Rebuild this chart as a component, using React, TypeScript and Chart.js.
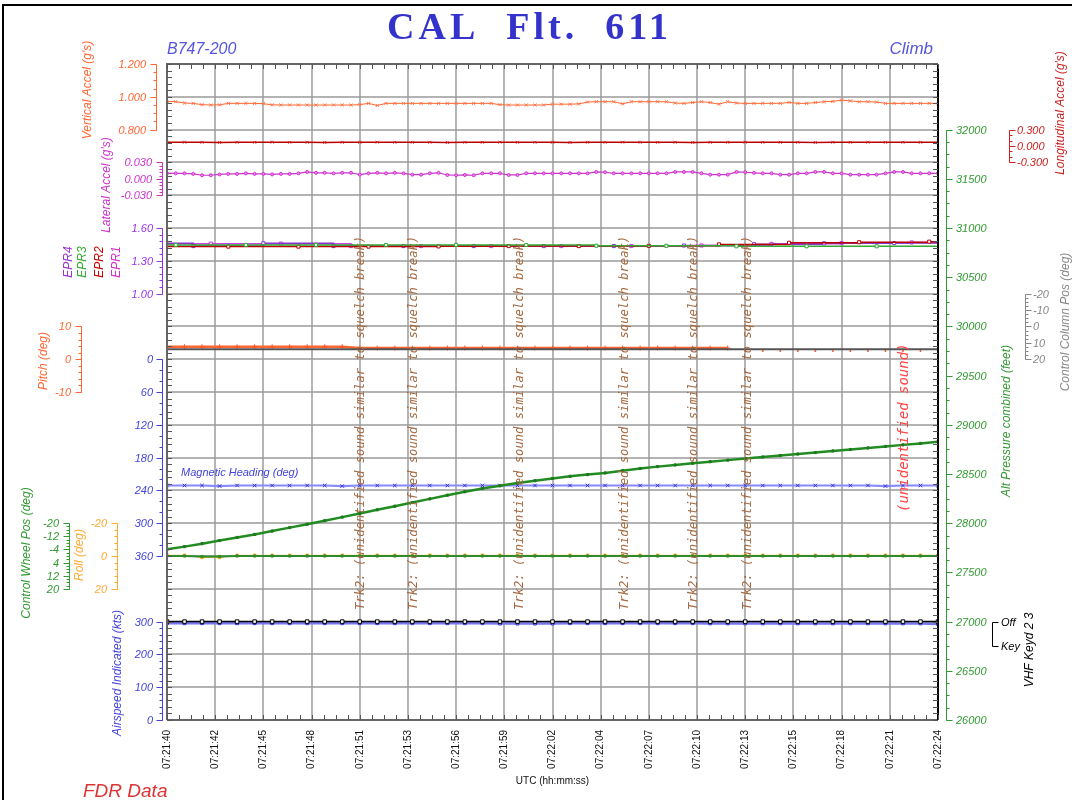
import React, { useEffect, useRef } from "react";
import { Chart, registerables } from "chart.js";
Chart.register(...registerables);

// ---------------- data ----------------
const xTickLabels = [
  "07:21:40", "07:21:42", "07:21:45", "07:21:48", "07:21:51", "07:21:53", "07:21:56", "07:21:59",
  "07:22:02", "07:22:04", "07:22:07", "07:22:10", "07:22:13", "07:22:15", "07:22:18", "07:22:21", "07:22:24",
];
const X_MAX_SEC = 44;

// Vertical accel (g), sampled every 0.5 s
const vertAccel = [
  0.972, 0.970, 0.962, 0.960, 0.952, 0.950, 0.951, 0.960, 0.960, 0.960,
  0.960, 0.958, 0.951, 0.950, 0.950, 0.950, 0.950, 0.950, 0.950, 0.950,
  0.950, 0.950, 0.952, 0.960, 0.947, 0.960, 0.960, 0.960, 0.960, 0.960,
  0.960, 0.960, 0.960, 0.960, 0.960, 0.960, 0.960, 0.960, 0.952, 0.950,
  0.950, 0.950, 0.950, 0.950, 0.955, 0.955, 0.955, 0.957, 0.968, 0.970,
  0.970, 0.970, 0.957, 0.970, 0.970, 0.970, 0.970, 0.970, 0.962, 0.960,
  0.965, 0.970, 0.965, 0.955, 0.970, 0.962, 0.960, 0.960, 0.960, 0.960,
  0.960, 0.966, 0.960, 0.960, 0.965, 0.970, 0.972, 0.980, 0.975, 0.970,
  0.970, 0.968, 0.960, 0.960, 0.960, 0.960, 0.960, 0.960, 0.960,
];
// Lateral accel (g), every 0.5 s
const latAccel = [
  0.010, 0.010, 0.010, 0.009, 0.0065, 0.0065, 0.008, 0.009, 0.009, 0.010,
  0.009, 0.009, 0.008, 0.009, 0.009, 0.010, 0.0125, 0.011, 0.011, 0.010,
  0.011, 0.011, 0.0076, 0.010, 0.011, 0.010, 0.011, 0.010, 0.0076, 0.0076,
  0.010, 0.011, 0.007, 0.0065, 0.007, 0.0065, 0.010, 0.010, 0.010, 0.007,
  0.007, 0.010, 0.010, 0.010, 0.010, 0.010, 0.010, 0.010, 0.010, 0.0125,
  0.012, 0.010, 0.010, 0.010, 0.010, 0.010, 0.010, 0.010, 0.0125, 0.0125,
  0.0125, 0.010, 0.0076, 0.0076, 0.0076, 0.0125, 0.012, 0.011, 0.010, 0.010,
  0.0076, 0.0076, 0.010, 0.010, 0.0125, 0.0125, 0.010, 0.010, 0.0076, 0.0076,
  0.0076, 0.0076, 0.010, 0.0125, 0.0125, 0.010, 0.010, 0.010, 0.010,
];
// 1 Hz series (t = 0..44 s)
const lonAccel = [
  0.068, 0.070, 0.068, 0.066, 0.068, 0.068, 0.070, 0.068, 0.068, 0.066,
  0.068, 0.068, 0.070, 0.068, 0.068, 0.068, 0.066, 0.068, 0.068, 0.070,
  0.068, 0.068, 0.068, 0.066, 0.068, 0.068, 0.070, 0.068, 0.068, 0.068,
  0.066, 0.068, 0.068, 0.070, 0.068, 0.068, 0.068, 0.066, 0.068, 0.068,
  0.070, 0.068, 0.068, 0.068, 0.068,
];
const pitch = [
  3.8, 3.8, 3.8, 3.8, 3.8, 3.8, 3.8, 3.8, 3.8, 3.8, 3.8,
  3.4, 3.4, 3.4, 3.4, 3.4, 3.4, 3.4, 3.4, 3.4, 3.4, 3.4,
  3.4, 3.4, 3.4, 3.4, 3.4, 3.4, 3.4, 3.4, 3.4, 3.4, 3.4,
  2.5, 2.5, 2.5, 2.5, 2.5, 2.5, 2.5, 2.5, 2.5, 2.5, 2.5, 2.5,
];
const controlColumn = [
  14, 14, 14, 14, 14, 14, 14, 14, 14, 14, 14, 14, 14, 14, 14, 14, 14, 14, 14, 14, 14, 14, 14,
  14, 14, 14, 14, 14, 14, 14, 14, 14, 14, 14, 14, 14, 14, 14, 14, 14, 14, 14, 14, 14, 14,
];
const heading = [
  231, 231, 231, 232, 231, 231, 231, 231, 231, 231, 232, 231, 231, 231, 231, 231, 231, 231, 231, 231, 231, 231, 231,
  231, 231, 231, 231, 231, 231, 231, 231, 231, 231, 231, 231, 231, 231, 231, 231, 231, 231, 232, 231, 231, 231,
];
const altitude = [
  27734, 27762, 27792, 27824, 27855, 27886, 27920, 27955, 27990, 28025,
  28062, 28099, 28136, 28173, 28210, 28247, 28285, 28320, 28352, 28380,
  28408, 28432, 28455, 28476, 28494, 28511, 28534, 28556, 28575, 28592,
  28609, 28625, 28641, 28658, 28673, 28688, 28703, 28718, 28734, 28749,
  28765, 28780, 28796, 28811, 28827,
];
const wheel = [
  0, 0, 0.3, 0.3, 0, 0, 0, 0, 0, 0, 0, 0, 0, 0, 0, 0, 0, 0, 0, 0, 0, 0, 0,
  0, 0, 0, 0, 0, 0, 0, 0, 0, 0, 0, 0, 0, 0, 0, 0, 0, 0, 0, 0, 0, 0,
];
const roll = [
  -0.4, -0.4, 0.9, 0.9, -0.4, -0.4, -0.4, -0.4, -0.4, -0.4, -0.4, -0.4, -0.4, -0.4, -0.4, -0.4, -0.4, -0.4, -0.4, -0.4, -0.4, -0.4, -0.4,
  -0.4, -0.4, -0.4, -0.4, -0.4, -0.4, -0.4, -0.4, -0.4, -0.4, -0.4, -0.4, -0.4, -0.4, -0.4, -0.4, -0.4, -0.4, -0.4, -0.4, -0.4, -0.4,
];
const airspeed = [
  295, 295, 295, 295, 295, 295, 295, 295, 295, 295, 295, 295, 295, 295, 295, 295, 295, 295, 295,
  294, 294, 294, 294,
  295, 295, 295, 295, 295, 295, 295, 295,
  294.5, 294.5, 294.5, 294.5, 294.5, 294.5, 294.5, 294.5, 294.5, 294.5, 294.5, 294.5, 294.5,
  293,
];
const vhfKeyed = [
  1, 1, 1, 1, 1, 1, 1, 1, 1, 1, 1, 1, 1, 1, 1, 1, 1, 1, 1, 1, 1, 1, 1,
  1, 1, 1, 1, 1, 1, 1, 1, 1, 1, 1, 1, 1, 1, 1, 1, 1, 1, 1, 1, 1, 1,
];
// EPR, each engine sampled every 4 s
const epr1Times = [-1.5, 2.5, 6.5, 10.5, 14.5, 18.5, 22.5, 26.5, 30.5, 34.5, 38.5, 42.5, 46.5];
const epr1 = [1.457, 1.457, 1.457, 1.435, 1.435, 1.435, 1.435, 1.435, 1.44, 1.455, 1.462, 1.468, 1.47];
const epr2Times = [-0.5, 3.5, 7.5, 11.5, 15.5, 19.5, 23.5, 27.5, 31.5, 35.5, 39.5, 43.5, 47.5];
const epr2 = [1.43, 1.43, 1.43, 1.43, 1.432, 1.435, 1.435, 1.437, 1.45, 1.465, 1.47, 1.475, 1.475];
const epr3Times = [-3.5, 0.5, 4.5, 8.5, 12.5, 16.5, 20.5, 24.5, 28.5, 32.5, 36.5, 40.5, 44.5];
const epr3 = [1.445, 1.445, 1.445, 1.445, 1.445, 1.445, 1.445, 1.438, 1.437, 1.433, 1.433, 1.433, 1.433];
const epr4Times = [-2.5, 1.5, 5.5, 9.5, 13.5, 17.5, 21.5, 25.5, 29.5, 33.5, 37.5, 41.5, 45.5];
const epr4 = [1.46, 1.435, 1.46, 1.435, 1.435, 1.435, 1.435, 1.435, 1.44, 1.452, 1.46, 1.462, 1.462];

// tick values / labels of the stacked axes
const vAccelTicks = [1.2, 1.0, 0.8];
const vAccelTickLabels = ["1.200", "1.000", "0.800"];
const lonAccelTicks = [0.3, 0, -0.3];
const lonAccelTickLabels = ["0.300", "0.000", "-0.300"];
const latAccelTicks = [0.03, 0, -0.03];
const latAccelTickLabels = ["0.030", "0.000", "-0.030"];
const eprTicks = [1.6, 1.3, 1.0];
const eprTickLabels = ["1.60", "1.30", "1.00"];
const pitchTicks = [10, 0, -10];
const pitchTickLabels = ["10", "0", "-10"];
const columnTicks = [-20, -10, 0, 10, 20];
const columnTickLabels = ["-20", "-10", "0", "10", "20"];
const headingTicks = [0, 60, 120, 180, 240, 300, 360];
const headingTickLabels = ["0", "60", "120", "180", "240", "300", "360"];
const altTicks = [32000, 31500, 31000, 30500, 30000, 29500, 29000, 28500, 28000, 27500, 27000, 26500, 26000];
const altTickLabels = ["32000", "31500", "31000", "30500", "30000", "29500", "29000", "28500", "28000", "27500", "27000", "26500", "26000"];
const wheelTicks = [-20, -12, -4, 4, 12, 20];
const wheelTickLabels = ["-20", "-12", "-4", "4", "12", "20"];
const rollTicks = [-20, 0, 20];
const rollTickLabels = ["-20", "0", "20"];
const airspeedTicks = [300, 200, 100, 0];
const airspeedTickLabels = ["300", "200", "100", "0"];
const vhfTicks = [1, 0];
const vhfTickLabels = ["Off", "Key"];

// annotations (seconds after 07:21:40)
const trkAnnotationTimes = [11.05, 14.1, 20.15, 26.1, 30.05, 33.15];
const trkAnnotationText = "Trk2: (unidentified sound similar to squelch break)";
const redAnnotationTime = 42.1;
const redAnnotationText = "(unidentified sound)";

// ---------------- layout / style ----------------
const W = 1072, H = 800;
const PAD = { left: 167, right: W - 938, top: 64, bottom: H - 720 };
const GRID_ROWS = 20;
const SANS = "'Liberation Sans', Arial, sans-serif";

// scale anchors: value v1 at grid row g1, value v2 at grid row g2
const yAxes = [
  { id: "yVA", v1: 1.2, g1: 0, v2: 0.8, g2: 2 },
  { id: "yLon", v1: 0.3, g1: 2, v2: -0.3, g2: 3 },
  { id: "yLat", v1: 0.03, g1: 3, v2: -0.03, g2: 4 },
  { id: "yEPR", v1: 1.6, g1: 5, v2: 1.0, g2: 7 },
  { id: "yPitch", v1: 10, g1: 8, v2: -10, g2: 10 },
  { id: "yCol", v1: -20, g1: 7, v2: 20, g2: 9 },
  { id: "yHdg", v1: 0, g1: 9, v2: 360, g2: 15 },
  { id: "yAlt", v1: 32000, g1: 2, v2: 26000, g2: 20 },
  { id: "yWheel", v1: -20, g1: 14, v2: 20, g2: 16 },
  { id: "yRoll", v1: -20, g1: 14, v2: 20, g2: 16 },
  { id: "yIAS", v1: 300, g1: 17, v2: 0, g2: 20 },
  { id: "yVHF", v1: 1, g1: 17, v2: 0, g2: 17.75 },
];

function rangeFrom(v1: number, g1: number, v2: number, g2: number) {
  const b = (v2 - v1) / (g2 - g1);
  const a = v1 - b * g1;
  const top = a, bottom = a + GRID_ROWS * b;
  if (b < 0) return { min: bottom, max: top, reverse: false };
  return { min: top, max: bottom, reverse: true };
}

const axisDecor = [
  { id: "yVA", x: 156, dir: -1, color: "#FF6633", from: 0.8, to: 1.2, minor: 0.05, ticks: vAccelTicks, labels: vAccelTickLabels, lx: 146 },
  { id: "yLat", x: 162, dir: -1, color: "#CC33CC", from: -0.03, to: 0.03, minor: 0.006, ticks: latAccelTicks, labels: latAccelTickLabels, lx: 152 },
  { id: "yEPR", x: 162, dir: -1, color: "#9933EE", from: 1.0, to: 1.6, minor: 0.06, ticks: eprTicks, labels: eprTickLabels, lx: 153 },
  { id: "yPitch", x: 81, dir: -1, color: "#FF6633", from: -10, to: 10, minor: 2, ticks: pitchTicks, labels: pitchTickLabels, lx: 71 },
  { id: "yHdg", x: 162, dir: -1, color: "#4444DD", from: 0, to: 360, minor: 20, ticks: headingTicks, labels: headingTickLabels, lx: 153 },
  { id: "yWheel", x: 69, dir: -1, color: "#339933", from: -20, to: 20, minor: 2, ticks: wheelTicks, labels: wheelTickLabels, lx: 59 },
  { id: "yRoll", x: 117, dir: -1, color: "#FFAA33", from: -20, to: 20, minor: 4, ticks: rollTicks, labels: rollTickLabels, lx: 107 },
  { id: "yIAS", x: 162, dir: -1, color: "#4444DD", from: 0, to: 300, minor: 20, ticks: airspeedTicks, labels: airspeedTickLabels, lx: 153 },
  { id: "yAlt", x: 946, dir: 1, color: "#339933", from: 26000, to: 32000, minor: 125, ticks: altTicks, labels: altTickLabels, lx: 956 },
  { id: "yLon", x: 1009, dir: 1, color: "#CC2222", from: -0.3, to: 0.3, minor: 0.1, ticks: lonAccelTicks, labels: lonAccelTickLabels, lx: 1017 },
  { id: "yCol", x: 1025, dir: 1, color: "#888888", from: -20, to: 20, minor: 2.5, ticks: columnTicks, labels: columnTickLabels, lx: 1033 },
  { id: "yVHF", x: 992, dir: 1, color: "#000000", from: 0, to: 1, minor: 0, ticks: vhfTicks, labels: vhfTickLabels, lx: 1001 },
];

const axisTitles = [
  { text: "Vertical Accel (g's)", x: 88, y: 90, color: "#FF6633" },
  { text: "Lateral Accel (g's)", x: 107, y: 185, color: "#CC33CC" },
  { text: "EPR4", x: 69, y: 262, color: "#9933CC" },
  { text: "EPR3", x: 83, y: 262, color: "#33AA33" },
  { text: "EPR2", x: 100, y: 262, color: "#CC0000" },
  { text: "EPR1", x: 117, y: 262, color: "#CC33CC" },
  { text: "Pitch (deg)", x: 44, y: 361, color: "#FF6633" },
  { text: "Control Wheel Pos (deg)", x: 27, y: 553, color: "#339933" },
  { text: "Roll (deg)", x: 80, y: 555, color: "#FFAA33" },
  { text: "Airspeed Indicated (kts)", x: 118, y: 673, color: "#4444DD" },
  { text: "Longitudinal Accel (g's)", x: 1061, y: 113, color: "#CC2222" },
  { text: "Control Column Pos (deg)", x: 1066, y: 322, color: "#888888" },
  { text: "Alt Pressure combined (feet)", x: 1007, y: 421, color: "#339933" },
  { text: "VHF Keyd 2 3", x: 1030, y: 650, color: "#000000" },
];

function vText(ctx: any, text: string, x: number, y: number, font: string, color: string, align: string) {
  ctx.save();
  ctx.translate(x, y);
  ctx.rotate(-Math.PI / 2);
  ctx.font = font;
  ctx.fillStyle = color;
  ctx.textAlign = align;
  ctx.textBaseline = "middle";
  ctx.fillText(text, 0, 0);
  ctx.restore();
}

const decorPlugin = {
  id: "fdrDecor",
  beforeDraw(chart: any) {
    const ctx = chart.ctx;
    ctx.save();
    ctx.fillStyle = "#ffffff";
    ctx.fillRect(0, 0, W, H);
    ctx.restore();
  },
  beforeDatasetsDraw(chart: any) {
    const ctx = chart.ctx;
    const xs = chart.scales.x, gs = chart.scales.grid;
    const { left, right, top, bottom } = chart.chartArea;
    const step = X_MAX_SEC / (xTickLabels.length - 1);
    ctx.save();
    ctx.strokeStyle = "#a2a2a2";
    ctx.lineWidth = 1.6;
    for (let i = 1; i < xTickLabels.length - 1; i++) {
      const x = Math.round(xs.getPixelForValue(i * step));
      ctx.beginPath(); ctx.moveTo(x, top); ctx.lineTo(x, bottom); ctx.stroke();
    }
    ctx.strokeStyle = "#9a9a9a";
    for (let g = 1; g < GRID_ROWS; g++) {
      const y = Math.round(gs.getPixelForValue(g));
      ctx.beginPath(); ctx.moveTo(left, y); ctx.lineTo(right, y); ctx.stroke();
    }
    ctx.restore();
  },
  afterDatasetsDraw(chart: any) {
    const ctx = chart.ctx;
    const xs = chart.scales.x, gs = chart.scales.grid;
    const { left, right, top, bottom } = chart.chartArea;
    const step = X_MAX_SEC / (xTickLabels.length - 1);
    ctx.save();

    // plot frame
    ctx.lineWidth = 2;
    ctx.strokeStyle = "#666";
    ctx.beginPath(); ctx.moveTo(left, bottom); ctx.lineTo(left, top); ctx.lineTo(right, top); ctx.stroke();
    ctx.beginPath(); ctx.moveTo(left, bottom); ctx.lineTo(right, bottom); ctx.stroke();
    ctx.strokeStyle = "#000";
    ctx.beginPath(); ctx.moveTo(right, top); ctx.lineTo(right, bottom); ctx.stroke();

    // minor ticks on the frame
    ctx.lineWidth = 1;
    ctx.strokeStyle = "#555";
    for (let i = 0; i <= (xTickLabels.length - 1) * 4; i++) {
      const x = Math.round(xs.getPixelForValue((i * step) / 4)) + 0.5;
      ctx.beginPath(); ctx.moveTo(x, top); ctx.lineTo(x, top + 5); ctx.stroke();
      ctx.beginPath(); ctx.moveTo(x, bottom); ctx.lineTo(x, bottom - 5); ctx.stroke();
    }
    for (let i = 0; i <= GRID_ROWS * 5; i++) {
      const y = Math.round(gs.getPixelForValue(i / 5)) + 0.5;
      ctx.beginPath(); ctx.moveTo(left, y); ctx.lineTo(left + 5, y); ctx.stroke();
      ctx.beginPath(); ctx.moveTo(right, y); ctx.lineTo(right - 5, y); ctx.stroke();
    }

    // x tick labels
    xTickLabels.forEach((lab, i) => {
      const x = xs.getPixelForValue(i * step);
      vText(ctx, lab, x, bottom + 10, `10px ${SANS}`, "#111", "right");
    });
    ctx.font = `10px ${SANS}`;
    ctx.textAlign = "center";
    ctx.textBaseline = "middle";
    ctx.fillStyle = "#111";
    ctx.fillText("UTC (hh:mm:ss)", (left + right) / 2, 781);

    // stacked axes
    axisDecor.forEach((a) => {
      const sc = chart.scales[a.id];
      const p = (v: number) => Math.round(sc.getPixelForValue(v)) + 0.5;
      ctx.strokeStyle = a.color;
      ctx.fillStyle = a.color;
      ctx.lineWidth = 1;
      const x = a.x + 0.5;
      ctx.beginPath(); ctx.moveTo(x, p(a.from)); ctx.lineTo(x, p(a.to)); ctx.stroke();
      if (a.minor) {
        const n = Math.round((a.to - a.from) / a.minor);
        for (let i = 0; i <= n; i++) {
          const y = p(a.from + i * a.minor);
          ctx.beginPath(); ctx.moveTo(x, y); ctx.lineTo(x + a.dir * 3, y); ctx.stroke();
        }
      }
      ctx.font = `italic 11px ${SANS}`;
      ctx.textBaseline = "middle";
      ctx.textAlign = a.dir < 0 ? "right" : "left";
      a.ticks.forEach((v, i) => {
        const y = p(v);
        ctx.beginPath(); ctx.moveTo(x, y); ctx.lineTo(x + a.dir * 6, y); ctx.stroke();
        ctx.fillText(a.labels[i], a.lx, y);
      });
    });

    // axis titles
    axisTitles.forEach((t) => vText(ctx, t.text, t.x, t.y, `italic 12px ${SANS}`, t.color, "center"));

    // annotations
    trkAnnotationTimes.forEach((t) => {
      vText(ctx, trkAnnotationText, xs.getPixelForValue(t), 610, "italic 12.2px 'DejaVu Sans Mono', monospace", "#A5683F", "left");
    });
    vText(ctx, redAnnotationText, xs.getPixelForValue(redAnnotationTime), 512, "italic 14px 'DejaVu Sans Mono', monospace", "#FF4444", "left");

    // in-plot label
    ctx.font = `italic 11px ${SANS}`;
    ctx.textAlign = "left";
    ctx.textBaseline = "middle";
    ctx.fillStyle = "#4444DD";
    ctx.fillText("Magnetic Heading (deg)", 181, 473);

    // header / footer
    ctx.fillStyle = "#3333CC";
    ctx.font = "bold 38px 'Liberation Serif', 'Times New Roman', serif";
    ctx.textAlign = "left";
    ctx.textBaseline = "alphabetic";
    try { (ctx as any).letterSpacing = "4px"; } catch (e) {}
    ctx.fillText("CAL  Flt.  611", 387, 39);
    try { (ctx as any).letterSpacing = "0px"; } catch (e) {}
    ctx.fillStyle = "#5555DD";
    ctx.font = `italic 16px ${SANS}`;
    ctx.fillText("B747-200", 167, 54);
    ctx.textAlign = "right";
    ctx.font = `italic 17px ${SANS}`;
    ctx.fillText("Climb", 933, 54);
    ctx.textAlign = "left";
    ctx.fillStyle = "#DD3333";
    ctx.font = `italic 19px ${SANS}`;
    ctx.fillText("FDR Data", 83, 797);

    // outer frame (left & top)
    ctx.strokeStyle = "#000";
    ctx.lineWidth = 2;
    ctx.beginPath(); ctx.moveTo(3, H); ctx.lineTo(3, 5); ctx.lineTo(W, 5); ctx.stroke();
    ctx.restore();
  },
};

function pts(times: number[], vals: number[]) {
  return vals.map((v, i) => ({ x: times[i], y: v }));
}
function evenTimes(n: number, dt: number) {
  return Array.from({ length: n }, (_, i) => i * dt);
}

function buildConfig(): any {
  const t1 = evenTimes(45, 1);
  const tHalf = evenTimes(89, 0.5);
  const scales: any = {
    x: { type: "linear", axis: "x", position: "bottom", min: 0, max: X_MAX_SEC, display: false },
    grid: { type: "linear", axis: "y", position: "left", min: 0, max: GRID_ROWS, reverse: true, display: false },
  };
  yAxes.forEach((a) => {
    const r = rangeFrom(a.v1, a.g1, a.v2, a.g2);
    scales[a.id] = { type: "linear", axis: "y", position: "left", min: r.min, max: r.max, reverse: r.reverse, display: false };
  });
  const base = { fill: false, tension: 0, pointBorderWidth: 1 };
  const datasets: any[] = [
    { ...base, yAxisID: "yVHF", data: pts(t1, vhfKeyed), borderColor: "#000", borderWidth: 1.5, pointStyle: "rect", pointRadius: 2.5, pointBorderColor: "#000", pointBackgroundColor: "#fff" },
    { ...base, yAxisID: "yWheel", data: pts(t1, wheel), borderColor: "#2E8B2E", borderWidth: 2, pointStyle: "rect", pointRadius: 1.5, pointBorderColor: "#2E8B2E", pointBackgroundColor: "#2E8B2E" },
    { ...base, yAxisID: "yRoll", data: pts(t1, roll), borderColor: "#FFAA22", borderWidth: 1, pointStyle: "rect", pointRadius: 1.8, pointBorderColor: "#FFAA22", pointBackgroundColor: "#FFAA22" },
    { ...base, yAxisID: "yAlt", data: pts(t1, altitude), borderColor: "#228B22", borderWidth: 2.5, pointStyle: "rect", pointRadius: 1.5, pointBorderColor: "#1E7A1E", pointBackgroundColor: "#1E7A1E" },
    { ...base, yAxisID: "yIAS", data: pts(t1, airspeed), borderColor: "#7777EE", borderWidth: 2.5, pointStyle: "rect", pointRadius: 2, pointBorderColor: "#3333CC", pointBackgroundColor: "#8888ff" },
    { ...base, yAxisID: "yHdg", data: pts(t1, heading), borderColor: "#8888FF", borderWidth: 2.2, pointStyle: "crossRot", pointRadius: 2.5, pointBorderColor: "#3333CC" },
    { ...base, yAxisID: "yCol", data: pts(t1, controlColumn), borderColor: "#555555", borderWidth: 2, pointRadius: 0 },
    {
      ...base, yAxisID: "yPitch", data: pts(t1, pitch), borderColor: "#FF6633", borderWidth: 2.5,
      pointStyle: "cross", pointRadius: (c: any) => (c.dataIndex >= 33 ? 1 : 2.5), pointBorderColor: "#FF5522",
      segment: { borderColor: (c: any) => (c.p0DataIndex >= 32 ? "rgba(0,0,0,0)" : undefined) },
    },
    { ...base, yAxisID: "yEPR", data: pts(epr3Times, epr3), stepped: true, borderColor: "#33AA33", borderWidth: 1.5, pointStyle: "rect", pointRadius: 2.2, pointBorderColor: "#33AA33", pointBackgroundColor: "#fff" },
    { ...base, yAxisID: "yEPR", data: pts(epr2Times, epr2), stepped: true, borderColor: "#BB0000", borderWidth: 1.5, pointStyle: "rect", pointRadius: 2.2, pointBorderColor: "#BB0000", pointBackgroundColor: "#fff" },
    { ...base, yAxisID: "yEPR", data: pts(epr4Times, epr4), stepped: true, borderColor: "#8833CC", borderWidth: 1.5, pointStyle: "rect", pointRadius: 2.2, pointBorderColor: "#8833CC", pointBackgroundColor: "#fff" },
    { ...base, yAxisID: "yEPR", data: pts(epr1Times, epr1), stepped: true, borderColor: "#CC44EE", borderWidth: 1.5, pointStyle: "rect", pointRadius: 2.2, pointBorderColor: "#CC33EE", pointBackgroundColor: "#fff" },
    { ...base, yAxisID: "yLat", data: pts(tHalf, latAccel), borderColor: "#CC33CC", borderWidth: 1.2, pointStyle: "circle", pointRadius: 1.5, pointBorderColor: "#CC33CC", pointBackgroundColor: "#EE88EE" },
    { ...base, yAxisID: "yLon", data: pts(t1, lonAccel), borderColor: "#BB0000", borderWidth: 1.5, pointStyle: "crossRot", pointRadius: 2, pointBorderColor: "#CC2222" },
    { ...base, yAxisID: "yVA", data: pts(tHalf, vertAccel), borderColor: "#FF6633", borderWidth: 1, pointStyle: "crossRot", pointRadius: 2.2, pointBorderColor: "#FF7744" },
  ];
  return {
    type: "line",
    data: { datasets },
    options: {
      responsive: false,
      animation: false,
      devicePixelRatio: 1,
      events: [],
      layout: { padding: PAD },
      plugins: { legend: { display: false }, tooltip: { enabled: false }, title: { display: false } },
      scales,
    },
    plugins: [decorPlugin],
  };
}

export default function App() {
  const ref = useRef<HTMLCanvasElement>(null);
  useEffect(() => {
    if (!ref.current) return;
    const chart = new Chart(ref.current, buildConfig());
    return () => chart.destroy();
  }, []);
  return (
    <div style={{ position: "absolute", left: 0, top: 0, width: W, height: H, background: "#fff" }}>
      <canvas ref={ref} width={W} height={H} style={{ display: "block", width: W, height: H }} />
    </div>
  );
}
